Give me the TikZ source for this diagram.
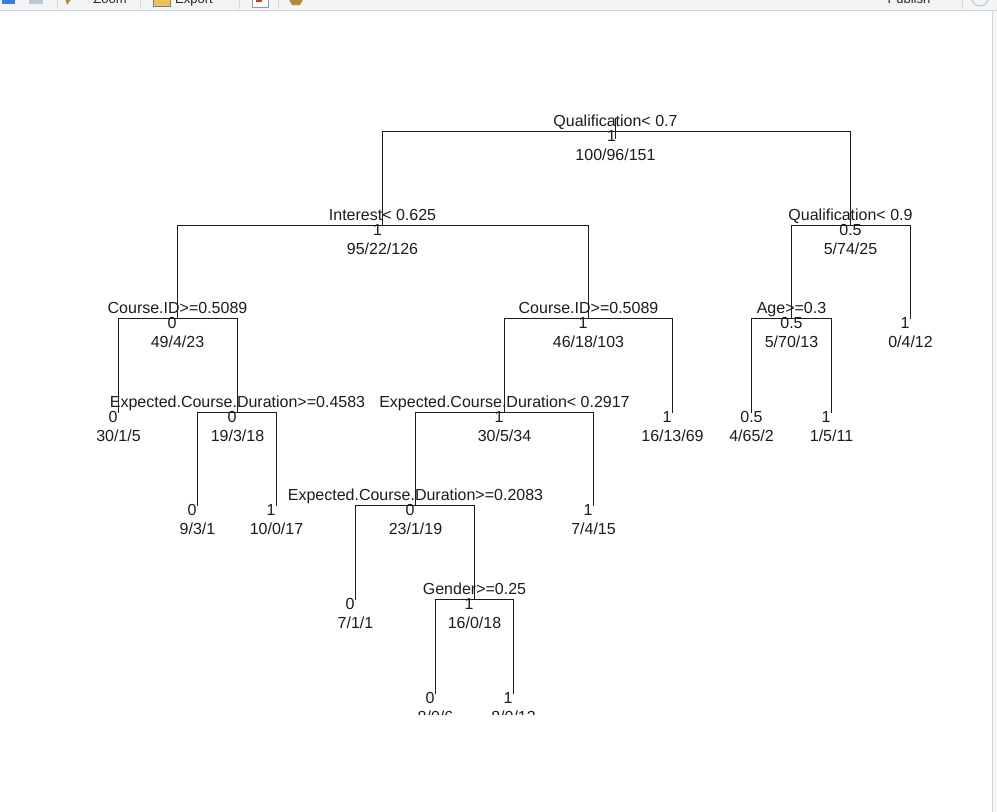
\documentclass[tikz,border=0pt]{standalone}
\usepackage{fontspec}
\setmainfont{Liberation Sans}
\definecolor{barbg}{HTML}{F2F4F6}
\definecolor{barline}{HTML}{D3D7DB}
\definecolor{panelbg}{HTML}{F6F7F9}
\definecolor{inkc}{HTML}{1C1C1C}
\definecolor{iconblue}{HTML}{3B7DD8}
\definecolor{iconpale}{HTML}{B9C8DA}
\definecolor{iconyel}{HTML}{E8C45A}
\definecolor{iconred}{HTML}{D0342C}
\definecolor{iconbrown}{HTML}{B58A3A}
\newcommand\rpsplit[7]{% name, x, y, split text, value, value x-shift, counts
  \coordinate (#1) at (#2,#3);
  \node[splitlbl] (#1s) at (#2,#3-5) {#4};
  \node[vallbl] (#1v) at (#2+#6,#3+10) {#5};
  \node[cntlbl] (#1c) at (#2,#3+29) {#7};}
\newcommand\rpleaf[5]{% name, x, y, value, value x-shift
  \coordinate (#1) at (#2,#3);
  \node[vallbl] (#1v) at (#2+#5,#3+10) {#4};}
\newcommand\rpcount[4]{\node[cntlbl] (#1c) at (#2,#3+29) {#4};}
\begin{document}
\begin{tikzpicture}[x=1pt,y=-1pt,
  treeline/.style={line width=1.7pt, draw=inkc},
  txt/.style={anchor=base, inner sep=0pt, font=\fontsize{16}{19}\selectfont, text=inkc},
  splitlbl/.style={txt},
  vallbl/.style={txt},
  cntlbl/.style={txt},
  tbtext/.style={anchor=base, inner sep=0pt, font=\fontsize{13}{15}\selectfont, text=black!85},
  tbsep/.style={draw=barline, line width=0.8pt}]
\useasboundingbox (0,0) rectangle (997,812);
\fill[white] (0,0) rectangle (997,812);
% ---------- toolbar strip (cut off at top) ----------
\begin{scope}
\clip (0,0) rectangle (997,10);
\fill[barbg] (0,0) rectangle (997,10);
\fill[iconblue] (2,0) rectangle (15,4);
\fill[iconpale] (29,0) rectangle (43,4);
\draw[tbsep] (57,0) -- (57,9);
\fill[iconbrown] (65,-2) -- (72,-2) -- (67,5) -- cycle;
\node[tbtext] (tzoom) at (110,3) {Zoom};
\draw[tbsep] (140,0) -- (140,9);
\filldraw[fill=iconyel, draw=black!50] (153,-3) rectangle (170,6);
\node[tbtext] (texport) at (194,3) {Export};
\draw[tbsep] (239,0) -- (239,9);
\filldraw[fill=white, draw=black!40] (252,-3) rectangle (268,7);
\fill[iconred] (256,-3) rectangle (262,2);
\draw[tbsep] (278,0) -- (278,9);
\fill[iconbrown] (288,-2) -- (304,-2) -- (300,5) -- (292,5) -- cycle;
\draw[iconblue, line width=1.8pt] (874,-1) arc (0:-150:4.5);
\node[tbtext] (tpub) at (909,3) {Publish};
\draw[tbsep] (962,0) -- (962,9);
\draw[iconpale, line width=1pt] (980,-2) circle (8);
\end{scope}
\draw[barline, line width=1pt] (0,10) -- (997,10);
% ---------- right side panel ----------
\fill[panelbg] (992,10.5) rectangle (997,812);
\draw[barline, line width=1pt] (992,10.5) -- (992,812);
% ---------- tree ----------
\begin{scope}
\clip (0,11) rectangle (991,714);
% root
\rpsplit{n1}{615.5}{131.5}{Qualification< 0.7}{1}{-4}{100/96/151}
\coordinate (n1top) at (615.5,118);
\coordinate (n1bot) at (615.5,139);
% level 1
\rpsplit{n2}{382.5}{225.5}{Interest< 0.625}{1}{-5}{95/22/126}
\rpsplit{n3}{850.5}{225.5}{Qualification< 0.9}{0.5}{0}{5/74/25}
% level 2
\rpsplit{n4}{177.5}{318.5}{Course.ID>=0.5089}{0}{-5.5}{49/4/23}
\rpsplit{n5}{588.5}{318.5}{Course.ID>=0.5089}{1}{-5.5}{46/18/103}
\rpsplit{n6}{791.5}{318.5}{Age>=0.3}{0.5}{0}{5/70/13}
\rpleaf{n7}{910.5}{318.5}{1}{-5.5}\rpcount{n7}{910.5}{318.5}{0/4/12}
% level 3
\rpleaf{n8}{118.5}{412.5}{0}{-5.5}\rpcount{n8}{118.5}{412.5}{30/1/5}
\rpsplit{n9}{237.5}{412.5}{Expected.Course.Duration>=0.4583}{0}{-5.5}{19/3/18}
\rpsplit{n10}{504.5}{412.5}{Expected.Course.Duration< 0.2917}{1}{-5.5}{30/5/34}
\rpleaf{n11}{672.5}{412.5}{1}{-5.5}\rpcount{n11}{672.5}{412.5}{16/13/69}
\rpleaf{n12}{751.5}{412.5}{0.5}{0}\rpcount{n12}{751.5}{412.5}{4/65/2}
\rpleaf{n13}{831.5}{412.5}{1}{-5.5}\rpcount{n13}{831.5}{412.5}{1/5/11}
% level 4
\rpleaf{n14}{197.5}{505.5}{0}{-5.5}\rpcount{n14}{197.5}{505.5}{9/3/1}
\rpleaf{n15}{276.5}{505.5}{1}{-5.5}\rpcount{n15}{276.5}{505.5}{10/0/17}
\rpsplit{n16}{415.5}{505.5}{Expected.Course.Duration>=0.2083}{0}{-5.5}{23/1/19}
\rpleaf{n17}{593.5}{505.5}{1}{-5.5}\rpcount{n17}{593.5}{505.5}{7/4/15}
% level 5
\rpleaf{n18}{355.5}{599.5}{0}{-5.5}\rpcount{n18}{355.5}{599.5}{7/1/1}
\rpsplit{n19}{474.5}{599.5}{Gender>=0.25}{1}{-5.5}{16/0/18}
% level 6
\rpleaf{n20}{435.5}{693.5}{0}{-5.5}\rpcount{n20}{435.5}{693.5}{8/0/6}
\rpleaf{n21}{513.5}{693.5}{1}{-5.5}\rpcount{n21}{513.5}{693.5}{8/0/12}
% connectors
\draw[treeline] (n1top) -- (n1bot);
\draw[treeline] (n2) |- (n1) -| (n3);
\draw[treeline] (n4) |- (n2) -| (n5);
\draw[treeline] (n6) |- (n3) -| (n7);
\draw[treeline] (n8) |- (n4) -| (n9);
\draw[treeline] (n10) |- (n5) -| (n11);
\draw[treeline] (n12) |- (n6) -| (n13);
\draw[treeline] (n14) |- (n9) -| (n15);
\draw[treeline] (n16) |- (n10) -| (n17);
\draw[treeline] (n18) |- (n16) -| (n19);
\draw[treeline] (n20) |- (n19) -| (n21);
\end{scope}
\end{tikzpicture}
\end{document}
